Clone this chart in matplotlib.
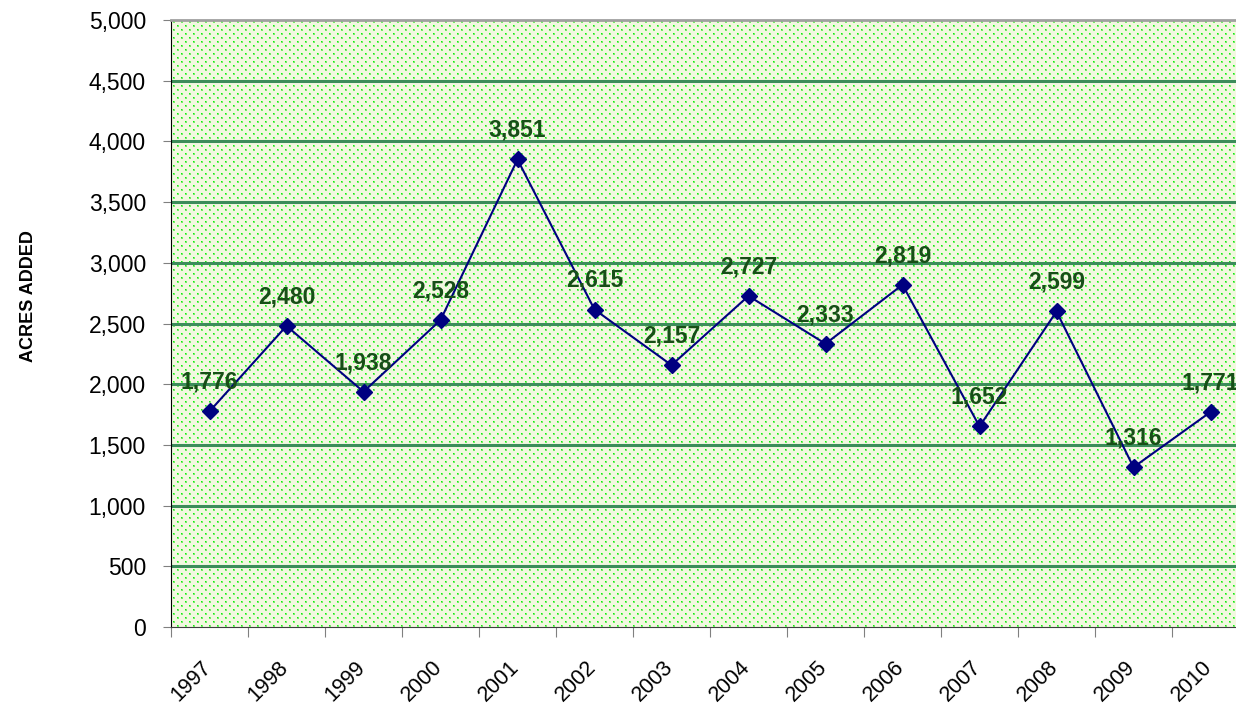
import numpy as np
import matplotlib.pyplot as plt
import matplotlib.ticker as mticker
import matplotlib.transforms as mtransforms

plt.rcParams['font.family'] = ['Liberation Sans', 'DejaVu Sans']

years = ['1997', '1998', '1999', '2000', '2001', '2002', '2003',
         '2004', '2005', '2006', '2007', '2008', '2009', '2010']
acres = [1776, 2480, 1938, 2528, 3851, 2615, 2157,
         2727, 2333, 2819, 1652, 2599, 1316, 1771]

W, H = 1236, 705
left, right, top, bottom = 171, 1249, 20, 627
fig = plt.figure(figsize=(W / 100, H / 100), dpi=100)
ax = fig.add_axes([left / W, 1 - bottom / H, (right - left) / W, (bottom - top) / H])

# dotted plot-area fill (staggered green dots on pale cream)
ph, pw = bottom - top, right - left
bg = np.array([0.95, 0.975, 0.88])
dot = np.array([0.05, 0.95, 0.05])
halo = np.array([0.45, 0.93, 0.4])
img = np.ones((ph, pw, 3)) * bg
rr, cc = np.mgrid[0:ph, 0:pw]
centre = (rr % 4 == 1) & ((cc - 4 * ((rr // 4) % 2)) % 8 == 2)
for dr, dc in [(0, 1), (1, 0), (1, 1)]:
    img[np.roll(np.roll(centre, dr, 0), dc, 1)] = halo
img[centre] = dot
ax.imshow(img, extent=(0, len(years), 0, 5000), aspect='auto',
          interpolation='nearest', zorder=0)

x = np.arange(len(years)) + 0.5
for y in range(500, 5000, 500):
    ax.axhline(y, color='#3C8C5A', linewidth=2.2, zorder=1)

ax.plot(x, acres, color='#000080', linewidth=1.5, marker='D',
        markersize=8.5, markerfacecolor='#000080', markeredgecolor='#000080', zorder=3)

for xi, v in zip(x, acres):
    ax.annotate(f'{v:,}', (xi, v), xytext=(0, 21), textcoords='offset points',
                ha='center', va='center', fontsize=16.5, fontweight='bold',
                color='#174F17', zorder=4)

ax.set_xlim(0, len(years))
ax.set_ylim(0, 5000)
ax.yaxis.set_major_locator(mticker.MultipleLocator(500))
ax.yaxis.set_major_formatter(mticker.FuncFormatter(lambda v, p: f'{int(v):,}'))
ax.tick_params(axis='y', labelsize=16.5, length=6, color='#808080', pad=12)

ax.set_xticks(np.arange(len(years) + 1))
ax.set_xticklabels([])
ax.tick_params(axis='x', which='major', length=7, color='#808080')
ax.set_xticks(x, minor=True)
ax.set_xticklabels(years, minor=True, rotation=45, ha='right', va='top',
                   rotation_mode='anchor', fontsize=15.5)
ax.tick_params(axis='x', which='minor', length=0, pad=20)
shift = mtransforms.ScaledTranslation(-0.09, -0.02, fig.dpi_scale_trans)
for lab in ax.get_xticklabels(minor=True):
    lab.set_transform(lab.get_transform() + shift)

ax.set_ylabel('ACRES ADDED', fontsize=13, fontweight='bold')
ax.yaxis.set_label_coords(-0.124, 0.546)

ax.spines['left'].set_color('#000000')
ax.spines['bottom'].set_color('#404040')
ax.spines['top'].set_color('#A0A0A0')
ax.spines['top'].set_linewidth(2)
ax.spines['right'].set_visible(False)

fig.savefig('out.png', dpi=100)
